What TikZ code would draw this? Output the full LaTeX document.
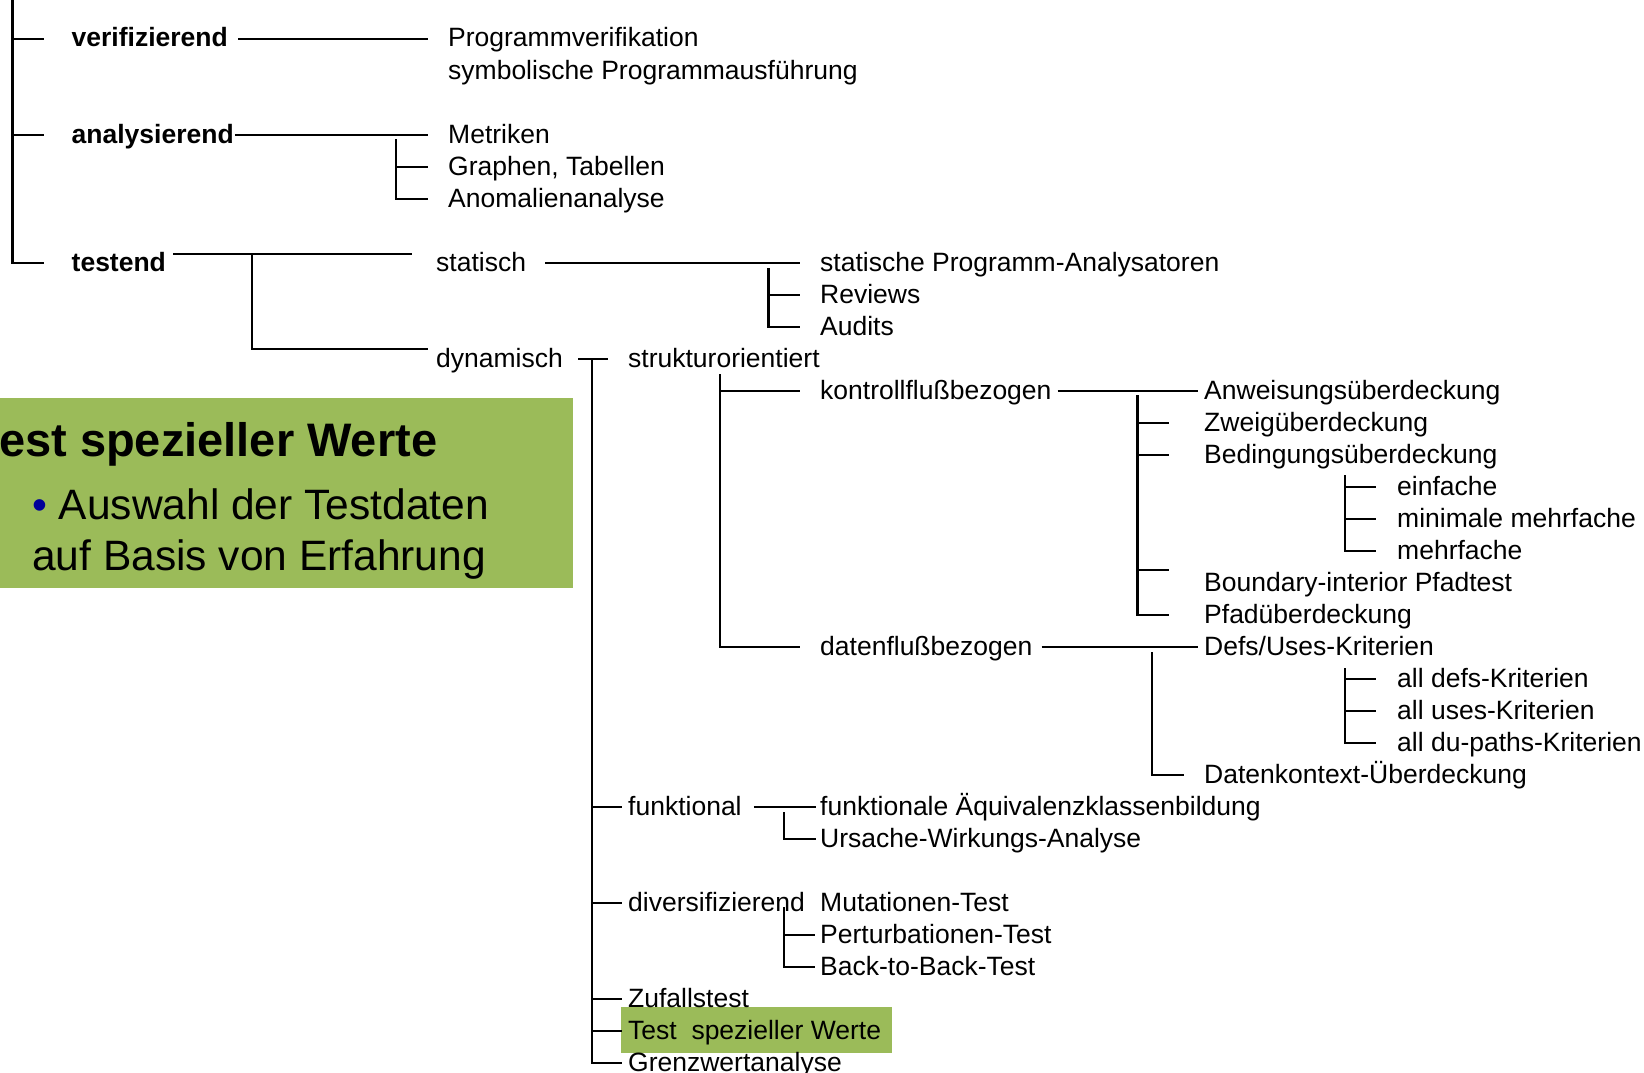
\documentclass[tikz,border=0pt]{standalone}
\usepackage{fontspec}
\setmainfont{Liberation Sans}
\definecolor{hlgreen}{RGB}{155,187,89}
\definecolor{bulletblue}{RGB}{0,0,153}
\begin{document}
\begin{tikzpicture}[x=1pt, y=-1pt,
    lbl/.style={anchor=base west, inner sep=0pt, text height=21pt, text depth=5pt, font=\fontsize{26.5}{30}\selectfont},
    hd/.style={lbl, font=\fontsize{26.5}{30}\selectfont\bfseries},
    big/.style={anchor=base west, inner sep=0pt, font=\fontsize{42.5}{48}\selectfont},
    tree/.style={line width=2.7pt}]
    \useasboundingbox (0, 0) rectangle (1644, 1073);
    \clip (0, 0) rectangle (1644, 1073);
    \fill[hlgreen] (0, 398) rectangle (572.5, 588);
    \fill[hlgreen] (621, 1006.5) rectangle (892, 1053);
    \node[big, font=\fontsize{47}{52}\selectfont\bfseries] (ctitle) at(-1, 456) {est spezieller Werte};
    \node[big] (cbullet) at(32, 519) {\textcolor{bulletblue}{•} Auswahl der Testdaten};
    \node[big] (cbasis) at(32, 570) {auf Basis von Erfahrung};

    \node[hd] (verif) at(71.5, 47) {verifizierend};
    \node[hd] (analys) at(71.5, 143) {analysierend};
    \node[hd] (testend) at(71.5, 271) {testend};
    \node[lbl] (prog) at(448, 47) {Programmverifikation};
    \node[lbl] (symb) at(448, 79) {symbolische Programmausführung};
    \node[lbl] (metr) at(448, 143) {Metriken};
    \node[lbl] (graph) at(448, 175) {Graphen, Tabellen};
    \node[lbl] (anom) at(448, 207) {Anomalienanalyse};
    \node[lbl] (stat) at(436, 271) {statisch};
    \node[lbl] (dyn) at(436, 367) {dynamisch};
    \node[lbl] (statana) at(820, 271) {statische Programm-Analysatoren};
    \node[lbl] (reviews) at(820, 303) {Reviews};
    \node[lbl] (audits) at(820, 335) {Audits};
    \node[lbl] (strukt) at(628, 367) {strukturorientiert};
    \node[lbl] (kontroll) at(820, 399) {kontrollflußbezogen};
    \node[lbl] (anweis) at(1204, 399) {Anweisungsüberdeckung};
    \node[lbl] (zweig) at(1204, 431) {Zweigüberdeckung};
    \node[lbl] (beding) at(1204, 463) {Bedingungsüberdeckung};
    \node[lbl] (einfach) at(1397, 495) {einfache};
    \node[lbl] (minimal) at(1397, 527) {minimale mehrfache};
    \node[lbl] (mehrf) at(1397, 559) {mehrfache};
    \node[lbl] (boundary) at(1204, 591) {Boundary-interior Pfadtest};
    \node[lbl] (pfad) at(1204, 623) {Pfadüberdeckung};
    \node[lbl] (datenfl) at(820, 655) {datenflußbezogen};
    \node[lbl] (defs) at(1204, 655) {Defs/Uses-Kriterien};
    \node[lbl] (alldefs) at(1397, 687) {all defs-Kriterien};
    \node[lbl] (alluses) at(1397, 719) {all uses-Kriterien};
    \node[lbl] (alldu) at(1397, 751) {all du-paths-Kriterien};
    \node[lbl] (datenk) at(1204, 783) {Datenkontext-Überdeckung};
    \node[lbl] (funkt) at(628, 815) {funktional};
    \node[lbl] (aequiv) at(820, 815) {funktionale Äquivalenzklassenbildung};
    \node[lbl] (ursache) at(820, 847) {Ursache-Wirkungs-Analyse};
    \node[lbl] (divers) at(628, 911) {diversifizierend};
    \node[lbl] (mutation) at(820, 911) {Mutationen-Test};
    \node[lbl] (perturb) at(820, 943) {Perturbationen-Test};
    \node[lbl] (back) at(820, 975) {Back-to-Back-Test};
    \node[lbl] (zufall) at(628, 1007) {Zufallstest};
    \node[lbl] (spezw) at(628, 1039) {Test\ \ spezieller Werte};
    \node[lbl] (grenz) at(628, 1071) {Grenzwertanalyse};

    \coordinate (root) at(12.5, 0);
    \coordinate (aS) at(396, 139);
    \coordinate (tS) at(252, 254);
    \coordinate (sS) at(768.5, 268);
    \coordinate (dS) at(592, 359);
    \coordinate (kS) at(720, 374);
    \coordinate (kbS) at(1137.6, 395);
    \coordinate (bS) at(1345, 475);
    \coordinate (bnd) at([yshift=13pt]boundary.west);
    \coordinate (dfS) at(1152, 652);
    \coordinate (uS) at(1345, 668);
    \coordinate (fS) at(784, 812);
    \coordinate (vS) at(784, 907);

    \draw[tree] (root) |- ([xshift=-27.5pt]testend.west);
    \draw[tree] (root |- verif) -- ([xshift=-27.5pt]verif.west);
    \draw[tree] (root |- analys) -- ([xshift=-27.5pt]analys.west);
    \draw[tree, shorten <=10pt, shorten >=20pt] (verif) -- (prog);
    \draw[tree, shorten <=1pt, shorten >=20pt] (analys) -- (metr);
    \draw[tree] (aS) |- ([xshift=-20pt]anom.west);
    \draw[tree] (aS |- graph) -- ([xshift=-20pt]graph.west);
    \draw[tree] ([shift={(7,-9)}]testend.east) -- ([shift={(-24,-9)}]stat.west);
    \draw[tree] (tS) |- ([shift={(-8,-10)}]dyn.west);
    \draw[tree, shorten <=19pt, shorten >=20pt] (stat) -- (statana);
    \draw[tree] (sS) |- ([xshift=-20pt]audits.west);
    \draw[tree] (sS |- reviews) -- ([xshift=-20pt]reviews.west);
    \draw[tree, shorten <=15pt, shorten >=20pt] (dyn) -- (strukt);
    \draw[tree] (dS) |- ([xshift=-6pt]grenz.west);
    \draw[tree] (dS |- funkt) -- ([xshift=-6pt]funkt.west);
    \draw[tree] (dS |- divers) -- ([xshift=-6pt]divers.west);
    \draw[tree] (dS |- zufall) -- ([xshift=-6pt]zufall.west);
    \draw[tree] (dS |- spezw) -- ([xshift=-6pt]spezw.west);
    \draw[tree] (kS) |- ([xshift=-20pt]datenfl.west);
    \draw[tree] (kS |- kontroll) -- ([xshift=-20pt]kontroll.west);
    \draw[tree, shorten <=6pt, shorten >=6pt] (kontroll) -- (anweis);
    \draw[tree] (kbS) |- ([xshift=-35pt]pfad.west);
    \draw[tree] (kbS |- zweig) -- ([xshift=-35pt]zweig.west);
    \draw[tree] (kbS |- beding) -- ([xshift=-35pt]beding.west);
    \draw[tree] (kbS |- bnd) -- ([xshift=-35pt]bnd);
    \draw[tree] (bS) |- ([xshift=-21pt]mehrf.west);
    \draw[tree] (bS |- einfach) -- ([xshift=-21pt]einfach.west);
    \draw[tree] (bS |- minimal) -- ([xshift=-21pt]minimal.west);
    \draw[tree, shorten <=9pt, shorten >=6pt] (datenfl) -- (defs);
    \draw[tree] (dfS) |- ([xshift=-20pt]datenk.west);
    \draw[tree] (uS) |- ([xshift=-21pt]alldu.west);
    \draw[tree] (uS |- alldefs) -- ([xshift=-21pt]alldefs.west);
    \draw[tree] (uS |- alluses) -- ([xshift=-21pt]alluses.west);
    \draw[tree, shorten <=12pt, shorten >=4pt] (funkt) -- (aequiv);
    \draw[tree] (fS) |- ([xshift=-4pt]ursache.west);
    \draw[tree] (vS) |- ([xshift=-5pt]back.west);
    \draw[tree] (vS |- perturb) -- ([xshift=-5pt]perturb.west);
\end{tikzpicture}
\end{document}
